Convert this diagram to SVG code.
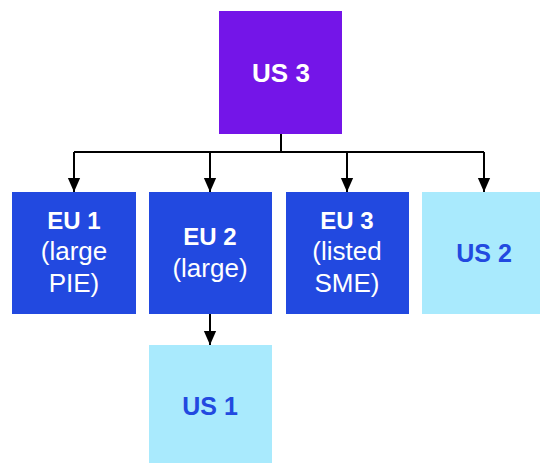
<svg xmlns="http://www.w3.org/2000/svg" width="540" height="463" viewBox="0 0 540 463">
<style>
.dark{fill:#2249E0}
.light{fill:#A9EAFD}
.purple{fill:#7415E8}
text{font-family:"Liberation Sans",Arial,sans-serif;text-anchor:middle}
.b{font-weight:bold;font-size:24px}
.r{font-size:26px}
.w{fill:#ffffff}
.u{fill:#2249E0;font-weight:bold;font-size:25px}
.c{fill:none;stroke:#000;stroke-width:2}
.a{marker-end:url(#ah)}
</style>
<defs>
<marker id="ah" markerWidth="14" markerHeight="16" refX="16" refY="7" orient="auto" markerUnits="userSpaceOnUse" viewBox="0 0 16 14">
<path d="M0,0 L16,7 L0,14 Z" fill="#000"/>
</marker>
</defs>
<g id="connectors">
<path class="c" d="M281,134 V152"/>
<path class="c" d="M74,152 H484"/>
<path class="c a" d="M74,152 V192"/>
<path class="c a" d="M210,152 V192"/>
<path class="c a" d="M347,152 V192"/>
<path class="c a" d="M484,152 V192"/>
<path class="c a" d="M210,314 V345"/>
</g>
<g id="us3">
<rect class="purple" x="219" y="11" width="123" height="123"/>
<text class="b w" x="281" y="82" style="font-size:26px">US 3</text>
</g>
<g id="eu1">
<rect class="dark" x="12" y="192" width="124" height="122"/>
<text class="b w" x="74" y="229">EU 1</text>
<text class="r w" x="74" y="260">(large</text>
<text class="r w" x="74" y="292">PIE)</text>
</g>
<g id="eu2">
<rect class="dark" x="149" y="192" width="123" height="122"/>
<text class="b w" x="210" y="245">EU 2</text>
<text class="r w" x="210" y="277">(large)</text>
</g>
<g id="eu3">
<rect class="dark" x="286" y="192" width="123" height="122"/>
<text class="b w" x="347" y="229">EU 3</text>
<text class="r w" x="347" y="260">(listed</text>
<text class="r w" x="347" y="292">SME)</text>
</g>
<g id="us2">
<rect class="light" x="422" y="192" width="124" height="122"/>
<text class="u" x="484" y="262">US 2</text>
</g>
<g id="us1">
<rect class="light" x="149" y="345" width="123" height="122"/>
<text class="u" x="210" y="415">US 1</text>
</g>
</svg>
